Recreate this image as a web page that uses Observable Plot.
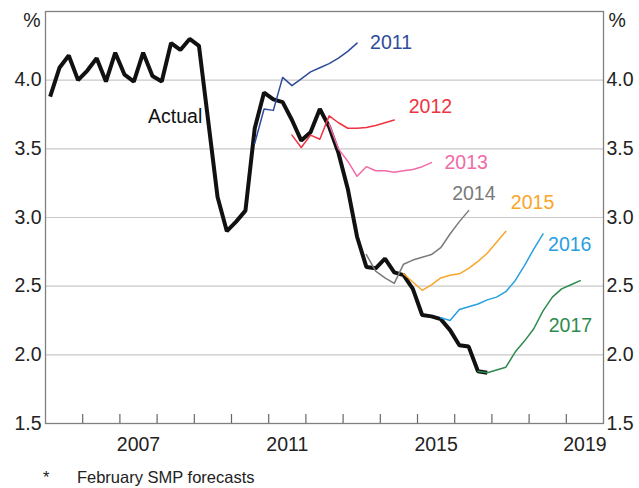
<!DOCTYPE html>
<html>
<head>
<meta charset="utf-8">
<script src="https://cdn.jsdelivr.net/npm/d3@7"></script>
<script src="https://cdn.jsdelivr.net/npm/@observablehq/plot@0.6"></script>
<style>
  html, body { margin: 0; padding: 0; background: #fff; }
  #chart { width: 639px; position: relative; }
  #note { font-family: "Liberation Sans", Arial, sans-serif; font-size: 16.5px; color: #222; height: 28px; line-height: 20px; padding-top: 7px; padding-left: 43px; white-space: pre; }
</style>
</head>
<body>
<div id="chart"></div>
<div id="note"></div>
<script>
// ---- Data (quarterly, year-ended %) ----
const actualStart = [2005, 1];
const actualValues = [
  3.88, 4.09, 4.18, 4.00,
  4.07, 4.16, 3.99, 4.20,
  4.04, 3.99, 4.20, 4.03,
  3.99, 4.27, 4.22, 4.30,
  4.25, 3.70, 3.15, 2.90,
  2.97, 3.05, 3.65, 3.91,
  3.86, 3.84, 3.71, 3.56,
  3.62, 3.79, 3.66, 3.47,
  3.21, 2.86, 2.64, 2.63,
  2.70, 2.60, 2.58, 2.48,
  2.29, 2.28, 2.26, 2.18,
  2.07, 2.06, 1.88, 1.87
];

const forecastNames = ["2011", "2012", "2013", "2014", "2015", "2016", "2017"];
const forecastStarts = [[2010, 3], [2011, 3], [2012, 3], [2013, 3], [2014, 3], [2015, 3], [2016, 3]];
const f2011 = [3.54, 3.79, 3.78, 4.02, 3.96, 4.01, 4.06, 4.09, 4.12, 4.16, 4.21, 4.27];
const f2012 = [3.60, 3.51, 3.60, 3.57, 3.74, 3.69, 3.65, 3.65, 3.655, 3.67, 3.69, 3.71];
const f2013 = [3.68, 3.50, 3.41, 3.30, 3.37, 3.34, 3.34, 3.33, 3.34, 3.35, 3.37, 3.40];
const f2014 = [2.73, 2.61, 2.56, 2.52, 2.66, 2.69, 2.71, 2.73, 2.78, 2.88, 2.97, 3.05];
const f2015 = [2.59, 2.53, 2.47, 2.51, 2.56, 2.58, 2.59, 2.63, 2.68, 2.74, 2.82, 2.90];
const f2016 = [2.27, 2.25, 2.33, 2.35, 2.37, 2.40, 2.42, 2.46, 2.54, 2.65, 2.77, 2.88];
const f2017 = [1.88, 1.87, 1.89, 1.91, 2.02, 2.10, 2.19, 2.32, 2.42, 2.48, 2.51, 2.54];
const forecastValues = [f2011, f2012, f2013, f2014, f2015, f2016, f2017];

const yTicks = [1.5, 2.0, 2.5, 3.0, 3.5, 4.0];
const gridTicks = [2.0, 2.5, 3.0, 3.5, 4.0];
const yearTicks = [2006, 2007, 2008, 2009, 2010, 2011, 2012, 2013, 2014, 2015, 2016, 2017, 2018, 2019];
const xLabels = ["2007", "2011", "2015", "2019"];
const unitLabel = "%";
const actualLabel = "Actual";
const footnote = "*      February SMP forecasts";

// ---- Styles ----
const colors = {"2011": "#2e4b9b", "2012": "#ef3340", "2013": "#f06aa8", "2014": "#7a7a7a",
                "2015": "#f9a52a", "2016": "#27a0e0", "2017": "#2e8a4e"};
const labelOffsets = {"2011": [13, 0], "2012": [14.5, -13], "2013": [13, 0], "2014": [-16.5, -17],
                      "2015": [5, -28], "2016": [5, 11], "2017": [-31.5, 45]};
const FONT = "Liberation Sans, Arial, sans-serif";
const FS = 19.5;

// ---- Build tables ----
function qTime(start, i) {
  const k = (start[1] - 1) + i;
  return start[0] + Math.floor(k / 4) + ((k % 4) + 0.5) / 4;
}
const actual = actualValues.map((v, i) => ({t: qTime(actualStart, i), v}));
const forecasts = forecastNames.map((name, j) => ({
  name,
  rows: forecastValues[j].map((v, i) => ({t: qTime(forecastStarts[j], i), v, name}))
}));

const marks = [
  Plot.gridY(gridTicks, {stroke: "#c9c9c9", strokeOpacity: 1, strokeWidth: 1.2}),
  Plot.frame({stroke: "#808080", strokeWidth: 1.3}),
  Plot.axisY(yTicks, {anchor: "left", label: null, tickSize: 0, tickPadding: 4, tickFormat: d => d.toFixed(1),
    fontSize: FS, fill: "#222"}),
  Plot.axisY(yTicks, {anchor: "right", label: null, tickSize: 0, tickPadding: 3, tickFormat: d => d.toFixed(1),
    fontSize: FS, fill: "#222"}),
  Plot.axisX(yearTicks, {anchor: "bottom", label: null, tickSize: -9, tickFormat: () => "", stroke: "#666", strokeWidth: 1.2}),
  Plot.axisX(xLabels.map(d => +d + 0.5), {anchor: "bottom", label: null, tickSize: 0, tickPadding: 14,
    tickFormat: d => String(Math.floor(d)), fontSize: FS, fill: "#222"}),
  Plot.text([unitLabel], {frameAnchor: "top-left", text: d => d, textAnchor: "end", lineAnchor: "middle",
    dx: -5, dy: 9.5, fontSize: FS, fill: "#222"}),
  Plot.text([unitLabel], {frameAnchor: "top-right", text: d => d, textAnchor: "start", lineAnchor: "middle",
    dx: 5, dy: 9.5, fontSize: FS, fill: "#222"}),
  Plot.line(actual, {x: "t", y: "v", stroke: "#111", strokeWidth: 4, strokeLinejoin: "miter", strokeLinecap: "butt"}),
  Plot.text([actual[17]], {x: "t", y: "v", text: () => actualLabel, textAnchor: "end", lineAnchor: "middle",
    dx: -6, dy: -5, fontSize: FS, fill: "#111"})
];
for (const f of forecasts) {
  marks.push(Plot.line(f.rows, {x: "t", y: "v", stroke: colors[f.name], strokeWidth: 1.5}));
  const last = f.rows[f.rows.length - 1];
  const [dx, dy] = labelOffsets[f.name];
  marks.push(Plot.text([last], {x: "t", y: "v", text: d => d.name, textAnchor: "start", lineAnchor: "middle",
    dx, dy, fontSize: FS, fill: colors[f.name]}));
}

const chart = Plot.plot({
  width: 639,
  height: 460,
  marginLeft: 45,
  marginRight: 36,
  marginTop: 11,
  marginBottom: 37,
  style: {fontFamily: FONT, fontSize: FS + "px", background: "#fff", overflow: "visible"},
  x: {domain: [2005, 2020], axis: null},
  y: {domain: [1.5, 4.5], axis: null},
  marks
});
document.getElementById("chart").appendChild(chart);
document.getElementById("note").textContent = footnote;
</script>
</body>
</html>
